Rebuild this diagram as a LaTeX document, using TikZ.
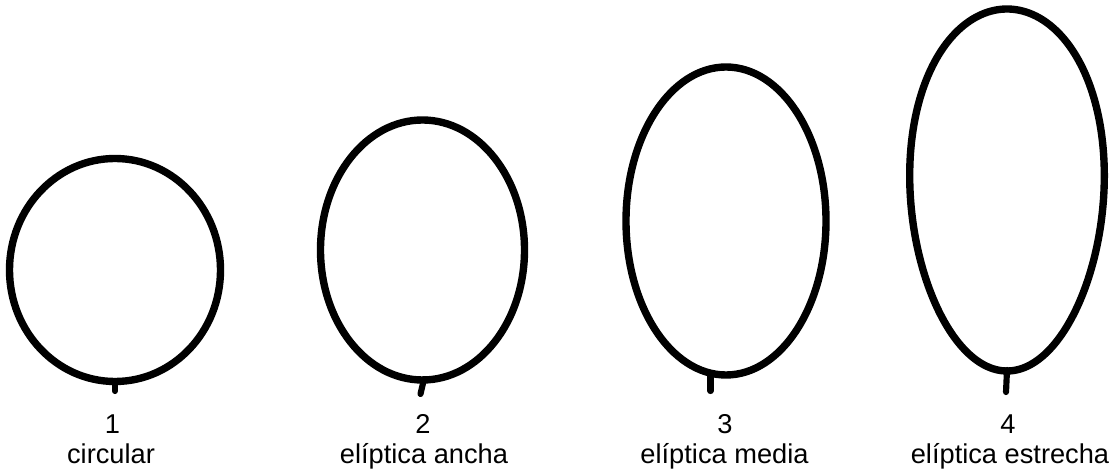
\documentclass[tikz,border=0pt]{standalone}
\usepackage{fontspec}
\setmainfont{Liberation Sans}
\usepackage{tikz}

\begin{document}
\begin{tikzpicture}[
          % Stile del contorno delle forme
          contorno/.style={
              line width=4.2pt,
              line cap=round,
              line join=round
          },
          % Stile del piccolo gambo in basso
          gambo/.style={
              line width=3.5pt,
              line cap=round
          },
          % Stile dei numeri
          numero/.style={
              anchor=base,
              font=\fontsize{15.5}{18}\selectfont
          },
          % Stile dei nomi
          nome/.style={
              anchor=base,
              font=\fontsize{15.5}{18}\selectfont
          }
      ]
          \useasboundingbox (0,0) rectangle (22.2,9.5);

          % 1. Forma circolare
          \draw [contorno] (2.30,4.10) ellipse [x radius=2.11, y radius=2.23];
          \coordinate (base1) at (2.30,1.88);
          \coordinate (punta1) at (2.30,1.68);
          \draw [gambo] (base1) -- (punta1);
          \node [numero] (num1) at (2.25,0.82) {1};
          \node [nome] (nome1) at (2.22,0.22) {circular};

          % 2. Ellittica larga
          \draw [contorno] (8.45,4.50) ellipse [x radius=2.04, y radius=2.60];
          \coordinate (base2) at (8.48,1.92);
          \coordinate (punta2) at (8.41,1.62);
          \draw [gambo] (base2) -- (punta2);
          \node [numero] (num2) at (8.46,0.82) {2};
          \node [nome] (nome2) at (8.48,0.22) {elíptica ancha};

          % 3. Ellittica media
          \draw [contorno] (14.52,5.08) ellipse [x radius=2.00, y radius=3.08];
          \coordinate (base3) at (14.21,2.04);
          \coordinate (punta3) at (14.21,1.68);
          \draw [gambo] (base3) -- (punta3);
          \node [numero] (num3) at (14.50,0.82) {3};
          \node [nome] (nome3) at (14.49,0.22) {elíptica media};

          % 4. Ellittica stretta (piu larga in alto)
          \draw [contorno] plot [domain=0:357, samples=120, smooth cycle]
              ({20.14+1.94*cos(\x)*(1+0.08*sin(\x))}, {5.70+3.62*sin(\x)});
          \coordinate (base4) at (20.14,2.10);
          \coordinate (punta4) at (20.12,1.66);
          \draw [gambo] (base4) -- (punta4);
          \node [numero] (num4) at (20.16,0.82) {4};
          \node [nome] (nome4) at (20.20,0.22) {elíptica estrecha};

      \end{tikzpicture}
\end{document}
